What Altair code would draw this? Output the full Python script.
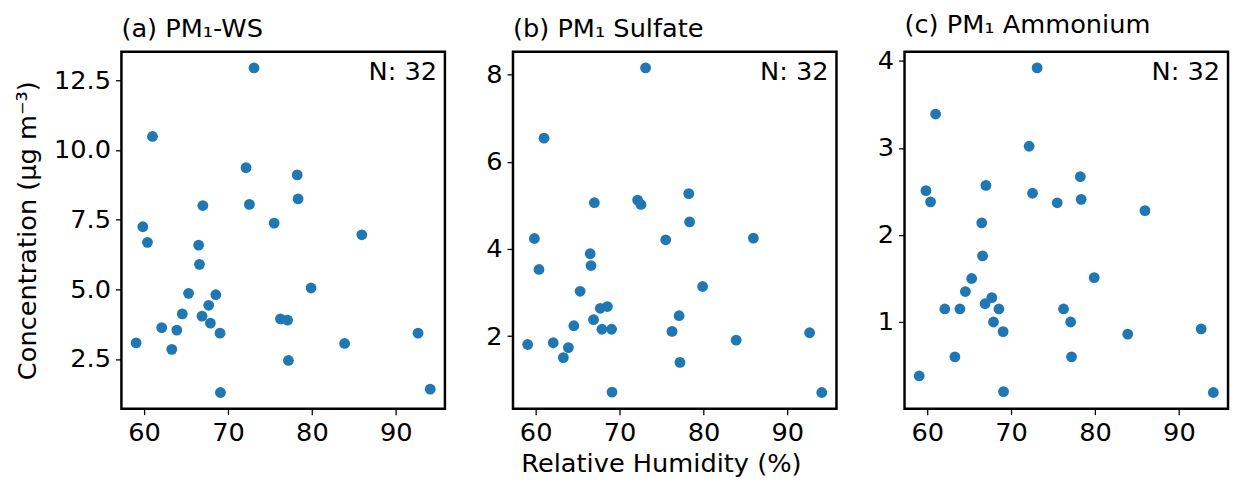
import altair as alt
import pandas as pd

rh = [73.1, 61.0, 72.15, 78.25, 78.35, 72.55, 67.0, 75.5, 59.85, 60.4, 85.95, 66.5,
      66.6, 79.9, 65.3, 68.55, 67.7, 64.55, 66.9, 67.9, 76.25, 77.1, 62.1, 63.9,
      69.05, 92.65, 59.05, 83.9, 63.3, 77.2, 69.1, 94.1]
ws = [12.95, 10.49, 9.37, 9.11, 8.25, 8.05, 8.01, 7.38, 7.25, 6.69, 6.96, 6.59,
      5.9, 5.05, 4.86, 4.81, 4.43, 4.12, 4.04, 3.79, 3.94, 3.9, 3.63, 3.54,
      3.43, 3.43, 3.08, 3.06, 2.85, 2.45, 1.3, 1.42]
sulfate = [8.15, 6.54, 5.12, 5.27, 4.62, 5.02, 5.06, 4.21, 4.24, 3.53, 4.25, 3.89,
           3.62, 3.14, 3.03, 2.68, 2.64, 2.24, 2.38, 2.16, 2.11, 2.47, 1.85, 1.74,
           2.16, 2.08, 1.81, 1.91, 1.51, 1.4, 0.72, 0.71]
ammonium = [3.92, 3.39, 3.02, 2.67, 2.41, 2.48, 2.57, 2.37, 2.51, 2.38, 2.28, 2.14,
            1.76, 1.51, 1.5, 1.15, 1.28, 1.35, 1.21, 1.0, 1.15, 1.0, 1.15, 1.15,
            0.89, 0.92, 0.38, 0.86, 0.6, 0.6, 0.2, 0.19]

titles = ["(a) PM\u2081-WS", "(b) PM\u2081 Sulfate", "(c) PM\u2081 Ammonium"]
x_ticks = [60, 70, 80, 90]
y_ticks = [[2.5, 5.0, 7.5, 10.0, 12.5], [2, 4, 6, 8], [1, 2, 3, 4]]
y_formats = [".1f", "d", "d"]

FONT = "DejaVu Sans"
FS = 26
W, H = 328, 362


def margin_domain(vals):
    lo, hi = min(vals), max(vals)
    m = (hi - lo) * 0.05
    return [lo - m, hi + m]


def panel(i, vals):
    df = pd.DataFrame({"rh": rh, "v": vals})
    xaxis = alt.Axis(values=x_ticks, format="d", title=None)
    if i == 1:
        xaxis = alt.Axis(values=x_ticks, format="d", title="Relative Humidity (%)",
                         titleX=150, titleAlign="center", titlePadding=6)
    if i == 0:
        yaxis = alt.Axis(values=y_ticks[i], format=y_formats[i],
                         title="Concentration (\u03bcg m\u207b\u00b3)", titlePadding=13)
    else:
        yaxis = alt.Axis(values=y_ticks[i], format=y_formats[i], title=None)
    pts = alt.Chart(df).mark_circle(size=120, color="#1f77b4", opacity=1).encode(
        x=alt.X("rh:Q", scale=alt.Scale(domain=margin_domain(rh), nice=False, zero=False), axis=xaxis),
        y=alt.Y("v:Q", scale=alt.Scale(domain=margin_domain(vals), nice=False, zero=False), axis=yaxis),
    )
    lab = alt.Chart(pd.DataFrame({"t": [f"N: {len(vals)}"]})).mark_text(
        align="right", baseline="top", font=FONT, fontSize=FS, color="black"
    ).encode(x=alt.value(W - 8), y=alt.value(8), text="t:N")
    return alt.layer(pts, lab).properties(
        width=W, height=H,
        title=alt.TitleParams(titles[i], anchor="start", frame="group", font=FONT,
                              fontSize=FS, fontWeight="normal", color="black", offset=10),
    )


chart = alt.hconcat(
    panel(0, ws), panel(1, sulfate), panel(2, ammonium), spacing=38
).properties(
    padding={"left": 5, "top": 0, "right": 0, "bottom": 0}
).configure_view(
    stroke="black", strokeWidth=2.5
).configure_axis(
    grid=False, domain=False, tickColor="black", tickSize=6, tickWidth=1.3,
    labelFont=FONT, labelFontSize=FS, labelColor="black", labelPadding=5,
    titleFont=FONT, titleFontSize=FS, titleColor="black", titleFontWeight="normal",
)

chart.save("out.html", embed_options={"renderer": "svg", "actions": False})
